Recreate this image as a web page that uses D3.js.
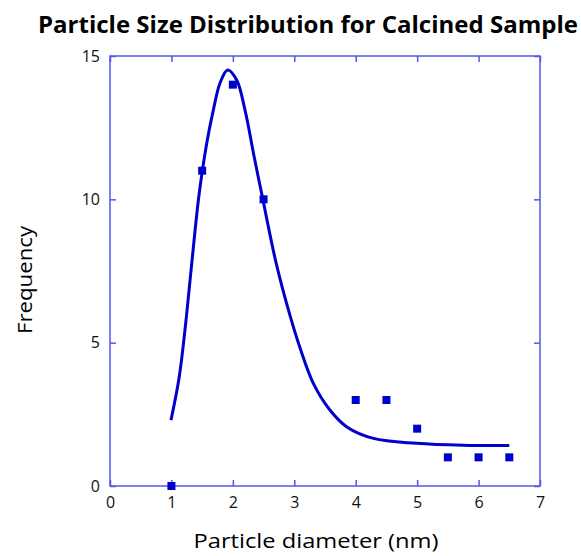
<!DOCTYPE html>
<html>
<head>
<meta charset="utf-8">
<script src="https://cdn.jsdelivr.net/npm/d3@7"></script>
<style>
  body { margin: 0; background: #fff; }
  text { font-family: "Open Sans", "Noto Sans", sans-serif; }
</style>
</head>
<body>
<div id="chart"></div>
<script>
// measured points
const diameters = [1, 1.5, 2, 2.5, 4, 4.5, 5, 5.5, 6, 6.5];
const counts = [0, 11, 14, 10, 3, 3, 2, 1, 1, 1];

// fitted curve
const fitX = [0.993, 1.123, 1.221, 1.33, 1.449, 1.574, 1.682, 1.79, 1.915, 2.062, 2.198, 2.35, 2.49, 2.70, 2.93, 3.093, 3.31, 3.58, 3.85, 4.29, 4.99, 5.75, 6.5];
const fitY = [2.30, 3.75, 5.45, 7.75, 10.15, 11.95, 13.11, 14.05, 14.51, 14.16, 13.11, 11.45, 9.98, 7.82, 5.95, 4.82, 3.58, 2.65, 2.07, 1.66, 1.49, 1.42, 1.41];

const xTicks = [0, 1, 2, 3, 4, 5, 6, 7];
const yTicks = [0, 5, 10, 15];

const width = 581, height = 556;
const margin = { top: 56, right: 41, bottom: 70, left: 110 };
const axisColor = "#5656e8";
const markColor = "#0000cc";

const svg = d3.select("#chart").append("svg")
    .attr("width", width)
    .attr("height", height);

const x = d3.scaleLinear().domain([0, 7]).range([margin.left, width - margin.right]);
const y = d3.scaleLinear().domain([0, 15]).range([height - margin.bottom, margin.top]);

// frame
svg.append("rect")
    .attr("x", x(0)).attr("y", y(15))
    .attr("width", x(7) - x(0)).attr("height", y(0) - y(15))
    .attr("fill", "none").attr("stroke", axisColor).attr("stroke-width", 1.5);

// ticks inward on all four sides
const tickLen = 6;
svg.append("g").attr("transform", `translate(0,${y(0)})`)
    .call(d3.axisBottom(x).tickValues(xTicks).tickSize(-tickLen).tickPadding(11).tickFormat(d3.format("d")))
    .call(g => g.select(".domain").remove());
svg.append("g").attr("transform", `translate(0,${y(15)})`)
    .call(d3.axisTop(x).tickValues(xTicks).tickSize(-tickLen).tickFormat(""))
    .call(g => g.select(".domain").remove());
svg.append("g").attr("transform", `translate(${x(0)},0)`)
    .call(d3.axisLeft(y).tickValues(yTicks).tickSize(-tickLen).tickPadding(10).tickFormat(d3.format("d")))
    .call(g => g.select(".domain").remove());
svg.append("g").attr("transform", `translate(${x(7)},0)`)
    .call(d3.axisRight(y).tickValues(yTicks).tickSize(-tickLen).tickFormat(""))
    .call(g => g.select(".domain").remove());

svg.selectAll(".tick line").attr("stroke", axisColor).attr("stroke-width", 1.5);
svg.selectAll(".tick text").attr("font-size", "16px").attr("fill", "#111")
    .attr("font-family", "'Open Sans', sans-serif");

// fitted curve
const line = d3.line()
    .x((d, i) => x(fitX[i]))
    .y(d => y(d))
    .curve(d3.curveCatmullRom.alpha(0.5));

svg.append("path")
    .attr("d", line(fitY))
    .attr("fill", "none")
    .attr("stroke", markColor)
    .attr("stroke-width", 3);

// markers
const sq = 8;
svg.selectAll("rect.pt")
    .data(counts)
    .enter()
    .append("rect")
    .attr("class", "pt")
    .attr("x", (d, i) => x(diameters[i]) - sq / 2)
    .attr("y", d => y(d) - sq / 2)
    .attr("width", sq)
    .attr("height", sq)
    .attr("fill", markColor);

// titles
svg.append("text")
    .attr("x", 308).attr("y", 33)
    .attr("text-anchor", "middle")
    .attr("font-size", "23px").attr("font-weight", "bold")
    .attr("textLength", 540).attr("lengthAdjust", "spacingAndGlyphs")
    .text("Particle Size Distribution for Calcined Sample");

svg.append("text")
    .attr("x", 316).attr("y", 548)
    .attr("text-anchor", "middle")
    .attr("font-size", "20px")
    .attr("textLength", 245).attr("lengthAdjust", "spacingAndGlyphs")
    .text("Particle diameter (nm)");

svg.append("text")
    .attr("transform", "translate(32,280) rotate(-90)")
    .attr("text-anchor", "middle")
    .attr("font-size", "20px")
    .attr("textLength", 108).attr("lengthAdjust", "spacingAndGlyphs")
    .text("Frequency");
</script>
</body>
</html>
